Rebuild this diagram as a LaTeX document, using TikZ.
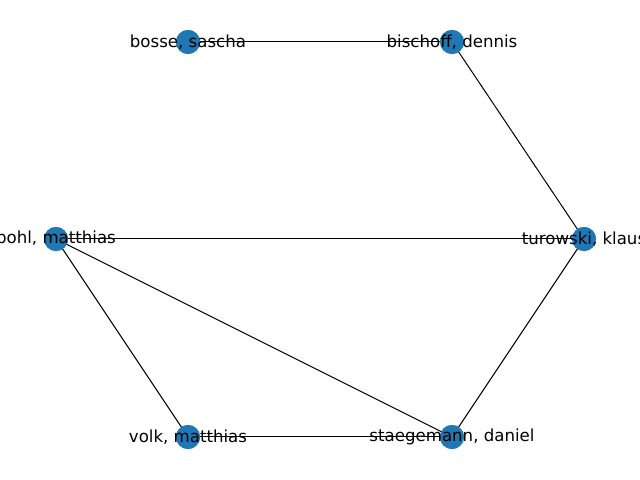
\documentclass[tikz,border=0pt]{standalone}
\usepackage{fontspec}
\setmainfont{DejaVu Sans}
\definecolor{nodeblue}{HTML}{1F77B4}
\tikzset{
  person/.style={circle,fill=nodeblue,minimum size=0.24in,inner sep=0pt},
  namelabel/.style={font=\fontsize{12pt}{14pt}\selectfont,inner sep=0pt,text=black},
  link/.style={black,line width=0.01in}
}
\begin{document}
\begin{tikzpicture}[x=0.01in,y=-0.01in]
\useasboundingbox (0,0) rectangle (640,480);
\clip (0,0) rectangle (640,480);
\node[person] (bosse) at (188,42) {};
\node[person] (bischoff) at (452,42) {};
\node[person] (pohl) at (56,239) {};
\node[person] (turowski) at (584,239) {};
\node[person] (volk) at (188,437) {};
\node[person] (staegemann) at (452,437) {};
\draw[link] (bosse.center)--(bischoff.center);
\draw[link] (bischoff.center)--(turowski.center);
\draw[link] (pohl.center)--(turowski.center);
\draw[link] (pohl.center)--(volk.center);
\draw[link] (pohl.center)--(staegemann.center);
\draw[link] (volk.center)--(staegemann.center);
\draw[link] (staegemann.center)--(turowski.center);
\foreach \p in {bosse,bischoff,pohl,turowski,volk,staegemann}
  \fill[nodeblue] (\p) circle (12);
\node[namelabel] (bosseL) at (bosse) {bosse, sascha};
\node[namelabel] (bischoffL) at (bischoff) {bischoff, dennis};
\node[namelabel] (pohlL) at (pohl) {pohl, matthias};
\node[namelabel] (turowskiL) at (turowski) {turowski, klaus};
\node[namelabel] (volkL) at (volk) {volk, matthias};
\node[namelabel] (staegemannL) at (staegemann) {staegemann, daniel};
\end{tikzpicture}
\end{document}
